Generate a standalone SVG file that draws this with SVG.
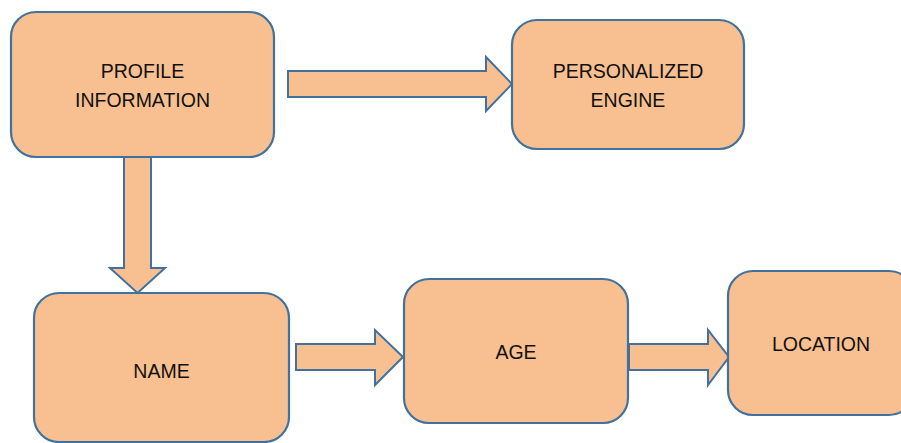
<svg xmlns="http://www.w3.org/2000/svg" width="901" height="443" viewBox="0 0 901 443">
<style>
.box{fill:#F8C090;stroke:#41719C;stroke-width:2.2}
.arrow{fill:#F8C090;stroke:#41719C;stroke-width:2;stroke-linejoin:miter}
.lbl{font-family:"Liberation Sans",Arial,sans-serif;font-size:19.5px;fill:#111;text-anchor:middle}
</style>
<rect width="901" height="443" fill="#fff"/>
<g id="connectors">
<polygon class="arrow" points="124,157 151,157 151,268 165,268 137.5,293 110,268 124,268"/>
<polygon class="arrow" points="288,71 486,71 486,57 512,84 486,111 486,97 288,97"/>
<polygon class="arrow" points="296,344 375,344 375,330 403,357 375,385 375,370 296,370"/>
<polygon class="arrow" points="629,344 708,344 708,330 729,357 708,385 708,370 629,370"/>
</g>
<g id="profile">
<rect class="box" x="11" y="12" width="263" height="145" rx="25"/>
<text class="lbl" x="142.5" y="78">PROFILE</text>
<text class="lbl" x="142.5" y="107">INFORMATION</text>
</g>
<g id="personalized">
<rect class="box" x="512" y="20" width="232" height="129" rx="25"/>
<text class="lbl" x="628" y="78">PERSONALIZED</text>
<text class="lbl" x="628" y="107">ENGINE</text>
</g>
<g id="name">
<rect class="box" x="34" y="293" width="255" height="149" rx="25"/>
<text class="lbl" x="161.5" y="378">NAME</text>
</g>
<g id="age">
<rect class="box" x="404" y="279" width="224" height="144" rx="25"/>
<text class="lbl" x="516" y="359">AGE</text>
</g>
<g id="location">
<rect class="box" x="728" y="271" width="186" height="144" rx="25"/>
<text class="lbl" x="821" y="351">LOCATION</text>
</g>
</svg>
